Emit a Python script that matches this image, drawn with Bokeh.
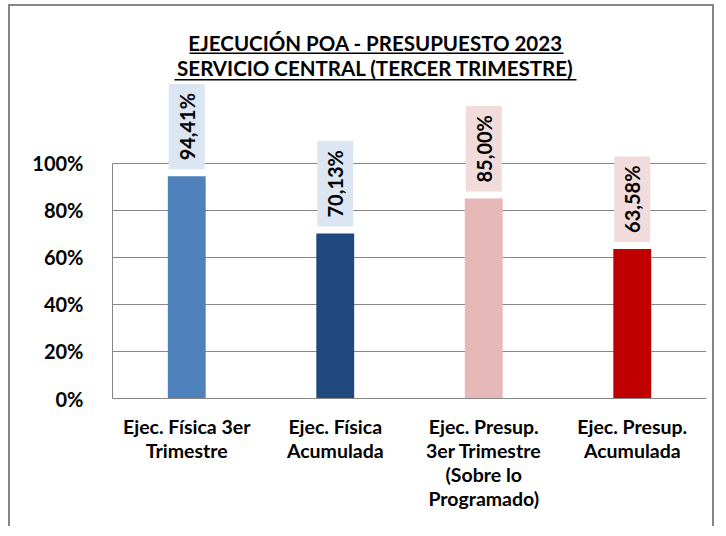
import math
from bokeh.plotting import figure
from bokeh.models import (ColumnDataSource, Range1d, FixedTicker, NumeralTickFormatter,
                          BoxAnnotation, Label)
from bokeh.core.properties import value
from bokeh.embed import file_html
from bokeh.resources import INLINE

# ---- data ----
categories = ["Ejec. Física 3er\nTrimestre", "Ejec. Física\nAcumulada",
              "Ejec. Presup.\n3er Trimestre\n(Sobre lo\nProgramado)", "Ejec. Presup.\nAcumulada"]
values = [0.9441, 0.7013, 0.8500, 0.6358]
value_labels = ["94,41%", "70,13%", "85,00%", "63,58%"]
bar_colors = ["#4F81BD", "#1F497D", "#E6B9B8", "#C00000"]
label_bg = ["#DCE6F2", "#DCE6F2", "#F2DCDB", "#F2DCDB"]
y_ticks = [0, 0.2, 0.4, 0.6, 0.8, 1.0]
title_lines = ["EJECUCIÓN POA - PRESUPUESTO 2023", "SERVICIO CENTRAL (TERCER TRIMESTRE)"]

FONT = "Lato"
GRAY = "#868686"

src = ColumnDataSource(dict(cat=categories, val=values, lab=value_labels,
                            col=bar_colors, bg=label_bg))

p = figure(x_range=categories, y_range=Range1d(0, 1.666), width=706, height=522,
           output_backend="svg", toolbar_location=None,
           min_border_left=102, min_border_right=10, min_border_top=0, min_border_bottom=130)
p.outline_line_color = None
p.background_fill_color = "white"
p.border_fill_color = "white"
p.styles = {"border-left": "2px solid #868686", "border-top": "2px solid #868686",
            "border-right": "2px solid #868686", "margin-left": "8px", "margin-top": "4px"}

p.vbar(x="cat", top="val", width=0.255, color="col", source=src, line_color=None)

p.text(x="cat", y="val", text="lab", source=src, angle=math.pi / 2,
       text_align="left", text_baseline="middle", y_offset=-7,
       text_font=value(FONT), text_font_style="bold", text_font_size="20px",
       text_color="black", background_fill_color="bg", padding=(9, 6))

# y axis
yax = p.yaxis[0]
yax.ticker = FixedTicker(ticks=y_ticks)
yax.formatter = NumeralTickFormatter(format="0%")
yax.bounds = (0, 1)
yax.axis_line_color = GRAY
yax.major_tick_line_color = None
yax.minor_tick_line_color = None
yax.major_label_standoff = 23
yax.major_label_text_font = FONT
yax.major_label_text_font_style = "bold"
yax.major_label_text_font_size = "20px"
yax.major_label_text_color = "black"

# x axis
xax = p.xaxis[0]
xax.axis_line_color = GRAY
xax.major_tick_line_color = None
xax.major_label_standoff = 10
xax.major_label_text_font = FONT
xax.major_label_text_font_style = "bold"
xax.major_label_text_font_size = "19.5px"
xax.major_label_text_color = "black"
xax.major_label_text_line_height = 1.05

p.xgrid.grid_line_color = None
p.ygrid.grid_line_color = GRAY
p.ygrid.grid_line_width = 1.2
p.ygrid.bounds = (0, 1)

# title (two underlined lines)
for i, t in enumerate(title_lines):
    p.add_layout(Label(x=363, y=34 + 25 * i, x_units="canvas", y_units="canvas", text=t,
                       text_align="center", text_baseline="alphabetic",
                       text_font=FONT, text_font_style="bold", text_font_size="20.5px",
                       text_color="black"))
for (l, r, y) in [(177, 551, 44), (162, 564, 70.5)]:
    p.add_layout(BoxAnnotation(left=l, right=r, top=y, bottom=y + 1.6,
                               left_units="canvas", right_units="canvas",
                               top_units="canvas", bottom_units="canvas",
                               fill_color="black", fill_alpha=1, line_color=None))

open("out.html", "w").write(file_html(p, INLINE))
